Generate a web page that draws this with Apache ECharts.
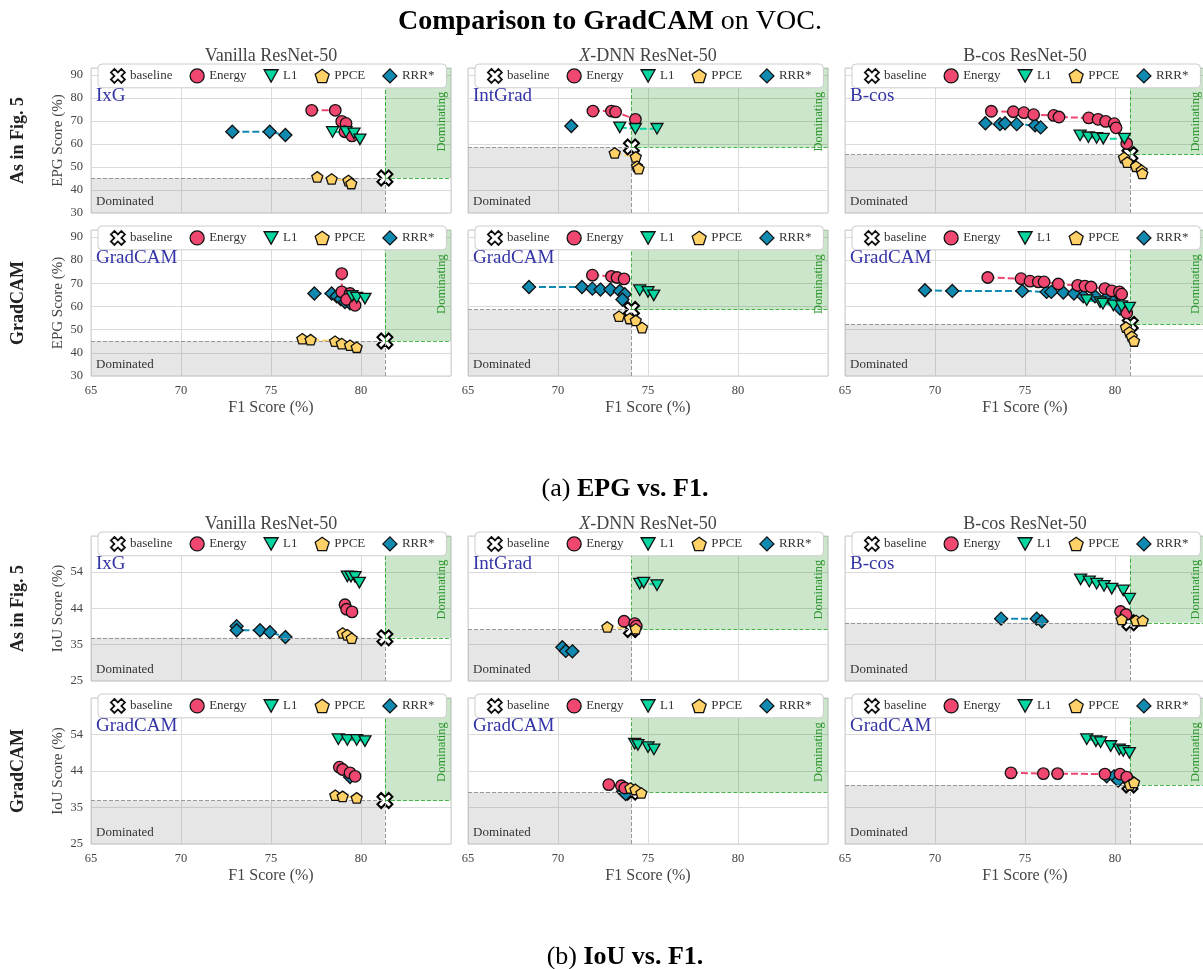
<!DOCTYPE html>
<html>
<head>
<meta charset="utf-8">
<script src="https://cdn.jsdelivr.net/npm/echarts@6/dist/echarts.min.js"></script>
<style>
  html, body { margin: 0; padding: 0; background: #fff; }
  #chart { width: 1203px; height: 969px; }
</style>
</head>
<body>
<div id="chart"></div>
<script>
// ---------- categories and tick labels ----------
const methodNames = ['Energy', 'L1', 'PPCE', 'RRR*'];
const modelTitles = ['Vanilla ResNet-50', 'X-DNN ResNet-50', 'B-cos ResNet-50'];
const fig5Attributions = ['IxG', 'IntGrad', 'B-cos'];
const rowLabels = ['As in Fig. 5', 'GradCAM', 'As in Fig. 5', 'GradCAM'];
const xTicks = [65, 70, 75, 80];
const epgTicks = [30, 40, 50, 60, 70, 80, 90];
const iouTickLabels = ['25', '35', '44', '54'];

// ---------- (a) EPG vs. F1 : [F1, EPG] ----------
// Vanilla ResNet-50, IxG
const epgVanillaIxgBase = [81.33, 45.2];
const epgVanillaIxgEnergy = [[77.26, 74.6], [78.57, 74.6], [78.93, 69.8], [79.17, 68.9], [79.1, 65.3], [79.5, 63.5]];
const epgVanillaIxgL1 = [[78.42, 65.2], [79.17, 65.2], [79.61, 64.6], [79.94, 62.0]];
const epgVanillaIxgPPCE = [[77.57, 45.7], [78.37, 44.8], [79.3, 44.1], [79.46, 42.8]];
const epgVanillaIxgRRR = [[72.85, 65.3], [74.93, 65.3], [75.8, 63.9]];
// X-DNN ResNet-50, IntGrad
const epgXdnnIntgradBase = [74.08, 58.7];
const epgXdnnIntgradEnergy = [[71.94, 74.3], [72.97, 74.3], [73.2, 73.9], [74.3, 70.7]];
const epgXdnnIntgradL1 = [[73.43, 67.2], [74.3, 66.6], [75.5, 66.6]];
const epgXdnnIntgradPPCE = [[73.15, 56.1], [74.32, 54.4], [74.39, 50.3], [74.48, 49.3]];
const epgXdnnIntgradRRR = [[70.74, 67.8]];
// B-cos ResNet-50, B-cos
const epgBcosBcosBase = [80.83, 55.4];
const epgBcosBcosEnergy = [[73.13, 74.2], [74.35, 74.0], [74.94, 73.6], [75.48, 72.7], [76.6, 72.4], [76.89, 71.7], [78.54, 71.3], [79.06, 70.7], [79.48, 69.8], [79.96, 68.8], [80.06, 67.0], [80.65, 60.2]];
const epgBcosBcosL1 = [[78.06, 63.7], [78.52, 62.9], [78.98, 62.6], [79.35, 62.3], [80.52, 62.3]];
const epgBcosBcosPPCE = [[80.5, 54.1], [80.68, 52.1], [81.17, 50.3], [81.48, 48.6], [81.52, 47.2]];
const epgBcosBcosRRR = [[72.8, 69.0], [73.61, 68.6], [73.89, 69.0], [74.54, 68.6], [75.56, 68.1], [75.87, 67.2]];
// Vanilla ResNet-50, GradCAM
const epgVanillaGradcamBase = [81.33, 45.1];
const epgVanillaGradcamEnergy = [[78.93, 74.2], [78.93, 66.3], [79.39, 65.6], [79.2, 63.0], [79.67, 60.5]];
const epgVanillaGradcamL1 = [[79.5, 64.5], [79.76, 63.8], [80.22, 63.4]];
const epgVanillaGradcamPPCE = [[76.74, 46.1], [77.2, 45.7], [78.56, 45.0], [78.93, 44.0], [79.39, 43.3], [79.76, 42.4]];
const epgVanillaGradcamRRR = [[77.41, 65.6], [78.37, 65.6], [78.65, 64.4], [78.87, 63.2], [79.11, 61.9], [79.39, 61.4]];
// X-DNN ResNet-50, GradCAM
const epgXdnnGradcamBase = [74.08, 58.7];
const epgXdnnGradcamEnergy = [[71.91, 73.5], [72.97, 73.0], [73.28, 72.5], [73.67, 71.9]];
const epgXdnnGradcamL1 = [[74.54, 67.0], [75.0, 66.3], [75.32, 64.8]];
const epgXdnnGradcamPPCE = [[73.39, 55.8], [73.98, 54.8], [74.32, 54.0], [74.67, 50.9]];
const epgXdnnGradcamRRR = [[68.39, 68.4], [71.33, 68.4], [71.91, 67.7], [72.36, 67.3], [72.91, 67.3], [73.43, 66.7], [73.71, 65.3], [73.58, 63.0]];
// B-cos ResNet-50, GradCAM
const epgBcosGradcamBase = [80.85, 52.3];
const epgBcosGradcamEnergy = [[72.93, 72.5], [74.78, 72.0], [75.28, 70.9], [75.74, 70.6], [76.06, 70.6], [76.85, 69.7], [77.93, 69.1], [78.33, 68.8], [78.67, 68.4], [79.44, 67.7], [79.82, 66.7], [80.24, 66.3], [80.37, 65.3], [80.65, 57.2]];
const epgBcosGradcamL1 = [[78.43, 62.7], [79.17, 61.9], [79.33, 61.2], [79.91, 60.5], [80.37, 60.1], [80.8, 59.5]];
const epgBcosGradcamPPCE = [[80.61, 51.1], [80.8, 49.0], [80.93, 47.1], [81.06, 45.1]];
const epgBcosGradcamRRR = [[69.44, 67.0], [70.96, 66.7], [74.85, 66.7], [76.2, 66.3], [76.46, 66.3], [77.13, 66.0], [77.72, 65.6], [78.24, 64.4], [78.89, 64.4], [79.63, 64.4], [79.9, 62.0], [80.28, 59.1]];

// ---------- (b) IoU vs. F1 : [F1, IoU] ----------
const iouVanillaIxgBase = [81.33, 36.5];
const iouVanillaIxgEnergy = [[79.11, 45.3], [79.2, 44.1], [79.5, 43.4]];
const iouVanillaIxgL1 = [[79.24, 52.85], [79.44, 52.8], [79.67, 52.7], [79.91, 51.2]];
const iouVanillaIxgPPCE = [[78.98, 37.8], [79.24, 37.3], [79.48, 36.4]];
const iouVanillaIxgRRR = [[73.09, 39.6], [73.09, 38.5], [74.39, 38.5], [74.94, 38.0], [75.8, 36.7]];

const iouXdnnIntgradBase = [74.08, 38.7];
const iouXdnnIntgradEnergy = [[73.67, 40.9], [74.26, 40.3], [74.35, 39.6]];
const iouXdnnIntgradL1 = [[74.54, 50.9], [74.76, 51.2], [75.5, 50.5]];
const iouXdnnIntgradPPCE = [[72.74, 39.4], [74.32, 38.9]];
const iouXdnnIntgradRRR = [[70.24, 34.0], [70.43, 33.0], [70.8, 32.9]];

const iouBcosBcosBase = [80.83, 40.5];
const iouBcosBcosEnergy = [[80.31, 43.5], [80.61, 42.7]];
const iouBcosBcosL1 = [[78.09, 52.05], [78.57, 51.5], [78.98, 50.9], [79.39, 50.3], [79.82, 49.6], [80.46, 49.1], [80.8, 46.9]];
const iouBcosBcosPPCE = [[80.37, 41.4], [81.17, 41.1], [81.54, 41.1]];
const iouBcosBcosRRR = [[73.67, 41.6], [75.65, 41.6], [75.93, 40.9]];

const iouVanillaGradcamBase = [81.33, 36.5];
const iouVanillaGradcamEnergy = [[78.8, 45.3], [78.98, 44.7], [79.39, 43.8], [79.67, 42.9]];
const iouVanillaGradcamL1 = [[78.74, 52.7], [79.24, 52.5], [79.76, 52.5], [80.22, 52.2]];
const iouVanillaGradcamPPCE = [[78.57, 37.9], [78.98, 37.6], [79.76, 37.2]];
const iouVanillaGradcamRRR = [[79.39, 42.7]];

const iouXdnnGradcamBase = [74.08, 38.7];
const iouXdnnGradcamEnergy = [[72.82, 40.7], [73.52, 40.4], [73.71, 39.8]];
const iouXdnnGradcamL1 = [[74.26, 51.5], [74.44, 51.2], [75.0, 50.6], [75.33, 50.0]];
const iouXdnnGradcamPPCE = [[74.02, 39.8], [74.3, 39.4], [74.63, 38.5]];
const iouXdnnGradcamRRR = [[73.61, 38.9], [73.76, 38.2]];

const iouBcosGradcamBase = [80.83, 40.6];
const iouBcosGradcamEnergy = [[74.22, 43.8], [76.02, 43.6], [76.81, 43.6], [79.44, 43.5], [80.28, 43.5], [80.65, 42.7]];
const iouBcosGradcamL1 = [[78.43, 52.7], [78.94, 52.2], [79.2, 51.9], [79.76, 50.9], [80.24, 50.0], [80.46, 49.6], [80.8, 49.1]];
const iouBcosGradcamPPCE = [[80.83, 40.7], [81.06, 41.3]];
const iouBcosGradcamRRR = [[79.54, 42.9], [79.94, 42.9], [80.18, 41.8]];

// ---------- panel table (row: 0..3 top to bottom, col: model) ----------
const panels = [
  { metric: 'epg', row: 0, col: 0, tag: fig5Attributions[0], base: epgVanillaIxgBase, sets: [epgVanillaIxgEnergy, epgVanillaIxgL1, epgVanillaIxgPPCE, epgVanillaIxgRRR] },
  { metric: 'epg', row: 0, col: 1, tag: fig5Attributions[1], base: epgXdnnIntgradBase, sets: [epgXdnnIntgradEnergy, epgXdnnIntgradL1, epgXdnnIntgradPPCE, epgXdnnIntgradRRR] },
  { metric: 'epg', row: 0, col: 2, tag: fig5Attributions[2], base: epgBcosBcosBase, sets: [epgBcosBcosEnergy, epgBcosBcosL1, epgBcosBcosPPCE, epgBcosBcosRRR] },
  { metric: 'epg', row: 1, col: 0, tag: 'GradCAM', base: epgVanillaGradcamBase, sets: [epgVanillaGradcamEnergy, epgVanillaGradcamL1, epgVanillaGradcamPPCE, epgVanillaGradcamRRR] },
  { metric: 'epg', row: 1, col: 1, tag: 'GradCAM', base: epgXdnnGradcamBase, sets: [epgXdnnGradcamEnergy, epgXdnnGradcamL1, epgXdnnGradcamPPCE, epgXdnnGradcamRRR] },
  { metric: 'epg', row: 1, col: 2, tag: 'GradCAM', base: epgBcosGradcamBase, sets: [epgBcosGradcamEnergy, epgBcosGradcamL1, epgBcosGradcamPPCE, epgBcosGradcamRRR] },
  { metric: 'iou', row: 2, col: 0, tag: fig5Attributions[0], base: iouVanillaIxgBase, sets: [iouVanillaIxgEnergy, iouVanillaIxgL1, iouVanillaIxgPPCE, iouVanillaIxgRRR] },
  { metric: 'iou', row: 2, col: 1, tag: fig5Attributions[1], base: iouXdnnIntgradBase, sets: [iouXdnnIntgradEnergy, iouXdnnIntgradL1, iouXdnnIntgradPPCE, iouXdnnIntgradRRR] },
  { metric: 'iou', row: 2, col: 2, tag: fig5Attributions[2], base: iouBcosBcosBase, sets: [iouBcosBcosEnergy, iouBcosBcosL1, iouBcosBcosPPCE, iouBcosBcosRRR] },
  { metric: 'iou', row: 3, col: 0, tag: 'GradCAM', base: iouVanillaGradcamBase, sets: [iouVanillaGradcamEnergy, iouVanillaGradcamL1, iouVanillaGradcamPPCE, iouVanillaGradcamRRR] },
  { metric: 'iou', row: 3, col: 1, tag: 'GradCAM', base: iouXdnnGradcamBase, sets: [iouXdnnGradcamEnergy, iouXdnnGradcamL1, iouXdnnGradcamPPCE, iouXdnnGradcamRRR] },
  { metric: 'iou', row: 3, col: 2, tag: 'GradCAM', base: iouBcosGradcamBase, sets: [iouBcosGradcamEnergy, iouBcosGradcamL1, iouBcosGradcamPPCE, iouBcosGradcamRRR] }
];

// ---------- styling ----------
const SERIF = "'Liberation Serif', 'DejaVu Serif', serif";
const methodColors = ['#ef476f', '#06d6a0', '#ffd166', '#118ab2'];
const crossSymbol = 'path://M1,0L2,1L3,0L4,1L3,2L4,3L3,4L2,3L1,4L0,3L1,2L0,1Z';
const triangleDown = 'path://M0,0L100,0L50,88Z';
const pentagon = 'path://M50,0L97.55,34.55L79.39,90.45L20.61,90.45L2.45,34.55Z';
const methodSymbols = ['circle', triangleDown, pentagon, 'diamond'];
const methodSizes = [11.5, 12, 11, 13];
const methodZ = [5, 6, 7, 4];

const colLeft = [91, 468, 845];
const plotWidth = 360;
const rowTop = [68, 230, 536, 698];
const rowHeight = [145, 146, 145, 146];
const X_MIN = 65, X_MAX = 85;

const option = {
  animation: false,
  backgroundColor: '#ffffff',
  grid: [], xAxis: [], yAxis: [], legend: [], series: [], graphic: []
};

panels.forEach(function (p, i) {
  const isEpg = p.metric === 'epg';
  const yMin = isEpg ? 30 : 25;
  const yMax = isEpg ? 93 : 63.6;
  const yStep = isEpg ? 10 : 29 / 3;
  const left = colLeft[p.col];
  const top = rowTop[p.row];
  const height = rowHeight[p.row];
  const bottomRow = p.row === 1 || p.row === 3;
  const firstCol = p.col === 0;

  option.grid.push({
    left: left, top: top, width: plotWidth, height: height,
    show: true, borderColor: '#cccccc', borderWidth: 1, backgroundColor: 'rgba(0,0,0,0)',
    containLabel: false, outerBoundsMode: 'none'
  });

  option.xAxis.push({
    type: 'value', gridIndex: i, min: X_MIN, max: X_MAX, interval: 5,
    axisLine: { show: false }, axisTick: { show: false },
    splitLine: { show: true, lineStyle: { color: '#dadada', width: 1 } },
    axisLabel: {
      show: bottomRow, margin: 8, color: '#444', fontFamily: SERIF, fontSize: 12.5,
      formatter: function (v) { return xTicks.indexOf(v) >= 0 ? String(v) : ''; }
    },
    name: bottomRow ? 'F1 Score (%)' : '', nameLocation: 'middle', nameGap: 24,
    nameTextStyle: { color: '#444', fontFamily: SERIF, fontSize: 16 }
  });

  option.yAxis.push({
    type: 'value', gridIndex: i, min: yMin, max: yMax, interval: yStep,
    axisLine: { show: false }, axisTick: { show: false },
    splitLine: { show: true, lineStyle: { color: '#dadada', width: 1 } },
    axisLabel: {
      show: firstCol, margin: 8, color: '#444', fontFamily: SERIF, fontSize: 12.5,
      formatter: isEpg
        ? function (v) { return epgTicks.indexOf(v) >= 0 ? String(v) : ''; }
        : function (v, idx) { return iouTickLabels[idx] || ''; }
    },
    name: firstCol ? (isEpg ? 'EPG Score (%)' : 'IoU Score (%)') : '',
    nameLocation: 'middle', nameGap: 25, nameRotate: 90,
    nameTextStyle: { color: '#444', fontFamily: SERIF, fontSize: 15 }
  });

  const bx = p.base[0], by = p.base[1];

  // dominated / dominating regions around the baseline
  option.series.push({
    type: 'scatter', xAxisIndex: i, yAxisIndex: i, data: [], silent: true, z: 1,
    markArea: {
      silent: true,
      data: [
        [{
          coord: [X_MIN, yMin], itemStyle: { color: 'rgba(128,128,128,0.2)' },
          label: { show: true, position: 'insideBottomLeft', distance: 5, formatter: 'Dominated', color: '#333', fontFamily: SERIF, fontSize: 13 }
        }, { coord: [bx, by] }],
        [{ coord: [bx, by], itemStyle: { color: 'rgba(0,128,0,0.2)' }, label: { show: false } }, { coord: [X_MAX, yMax] }]
      ]
    },
    markLine: {
      silent: true, symbol: ['none', 'none'], label: { show: false },
      lineStyle: { color: '#999', type: [4, 2], width: 1 },
      data: [
        [{ coord: [X_MIN, by] }, { coord: [bx, by] }],
        [{ coord: [bx, yMin] }, { coord: [bx, by] }],
        [{ coord: [bx, by], lineStyle: { color: 'rgba(0,150,0,0.7)', type: [4, 2], width: 1 } }, { coord: [X_MAX, by] }],
        [{ coord: [bx, by], lineStyle: { color: 'rgba(0,150,0,0.7)', type: [4, 2], width: 1 } }, { coord: [bx, yMax] }]
      ]
    }
  });

  // dashed connectors for each regularisation method
  p.sets.forEach(function (pts, m) {
    option.series.push({
      type: 'line', name: methodNames[m] + ' path', xAxisIndex: i, yAxisIndex: i,
      data: pts, symbol: 'none', showSymbol: false, silent: true, z: 2,
      lineStyle: { color: methodColors[m], width: 2, type: [7, 3] },
      emphasis: { disabled: true }
    });
  });

  // baseline marker
  option.series.push({
    type: 'scatter', name: 'baseline', xAxisIndex: i, yAxisIndex: i, data: [p.base],
    symbol: crossSymbol, symbolSize: 15, silent: true, z: 3,
    itemStyle: { color: '#ffffff', borderColor: '#000000', borderWidth: 2, opacity: 1 }
  });

  // method markers
  p.sets.forEach(function (pts, m) {
    option.series.push({
      type: 'scatter', name: methodNames[m], xAxisIndex: i, yAxisIndex: i, data: pts,
      symbol: methodSymbols[m], symbolSize: methodSizes[m], symbolKeepAspect: true,
      silent: true, z: methodZ[m],
      itemStyle: { color: methodColors[m], borderColor: '#111', borderWidth: 1.3, opacity: 1 }
    });
  });

  option.legend.push({
    left: left + 7, top: top - 4, orient: 'horizontal', selectedMode: false,
    itemWidth: 14, itemHeight: 14, itemGap: 17, padding: [4, 12],
    backgroundColor: '#ffffff', borderColor: '#cccccc', borderWidth: 1, borderRadius: 4, z: 20,
    textStyle: { fontFamily: SERIF, fontSize: 13, color: '#333' },
    itemStyle: { borderColor: '#111', borderWidth: 1.3 },
    data: [{ name: 'baseline', itemStyle: { borderWidth: 1.8 } }].concat(methodNames.map(function (n) { return { name: n }; }))
  });

  // attribution method tag in the top-left corner
  option.graphic.push({
    type: 'text', x: left + 5, y: top + 28, z: 20, silent: true,
    style: { text: p.tag, fill: '#3434a6', fontFamily: SERIF, fontSize: 19, align: 'left', verticalAlign: 'middle' }
  });

  // "Dominating" note along the right edge of the panel
  option.graphic.push({
    type: 'text', x: left + plotWidth - 9, y: top + height * 0.37, rotation: Math.PI / 2, z: 3, silent: true,
    style: { text: 'Dominating', fill: 'rgba(0,128,0,0.8)', fontFamily: SERIF, fontSize: 12.5, align: 'center', verticalAlign: 'middle' }
  });
});

// column titles above each section
[0, 2].forEach(function (r) {
  modelTitles.forEach(function (t, c) {
    const isX = t.indexOf('X-') === 0;
    option.graphic.push({
      type: 'text', x: colLeft[c] + plotWidth / 2, y: rowTop[r] - 12, z: 20, silent: true,
      style: {
        text: isX ? '{i|X}{n|' + t.slice(1) + '}' : '{n|' + t + '}',
        rich: {
          i: { fontFamily: SERIF, fontSize: 18, fontStyle: 'italic', fill: '#444' },
          n: { fontFamily: SERIF, fontSize: 18, fill: '#444' }
        },
        align: 'center', verticalAlign: 'middle'
      }
    });
  });
});

// row labels on the left
rowLabels.forEach(function (t, r) {
  option.graphic.push({
    type: 'text', x: 18, y: rowTop[r] + rowHeight[r] / 2, rotation: Math.PI / 2, z: 20, silent: true,
    style: { text: t, fill: '#222', fontFamily: SERIF, fontSize: 18, fontWeight: 'bold', align: 'center', verticalAlign: 'middle' }
  });
});

// figure title and sub-captions
function richLine(bold, plain, x, y, size, boldFirst) {
  return {
    type: 'text', x: x, y: y, z: 20, silent: true,
    style: {
      text: boldFirst ? '{b|' + bold + '}{n|' + plain + '}' : '{n|' + plain + '}{b|' + bold + '}',
      rich: {
        b: { fontFamily: SERIF, fontSize: size, fontWeight: 'bold', fill: '#000' },
        n: { fontFamily: SERIF, fontSize: size, fill: '#000' }
      },
      align: 'center', verticalAlign: 'middle'
    }
  };
}
option.graphic.push(richLine('Comparison to GradCAM', ' on VOC.', 610, 22, 28, true));
option.graphic.push(richLine('EPG vs. F1.', '(a) ', 625, 489, 26, false));
option.graphic.push(richLine('IoU vs. F1.', '(b) ', 625, 957, 26, false));

const chart = echarts.init(document.getElementById('chart'), null, { renderer: 'canvas' });
chart.setOption(option);
</script>
</body>
</html>
